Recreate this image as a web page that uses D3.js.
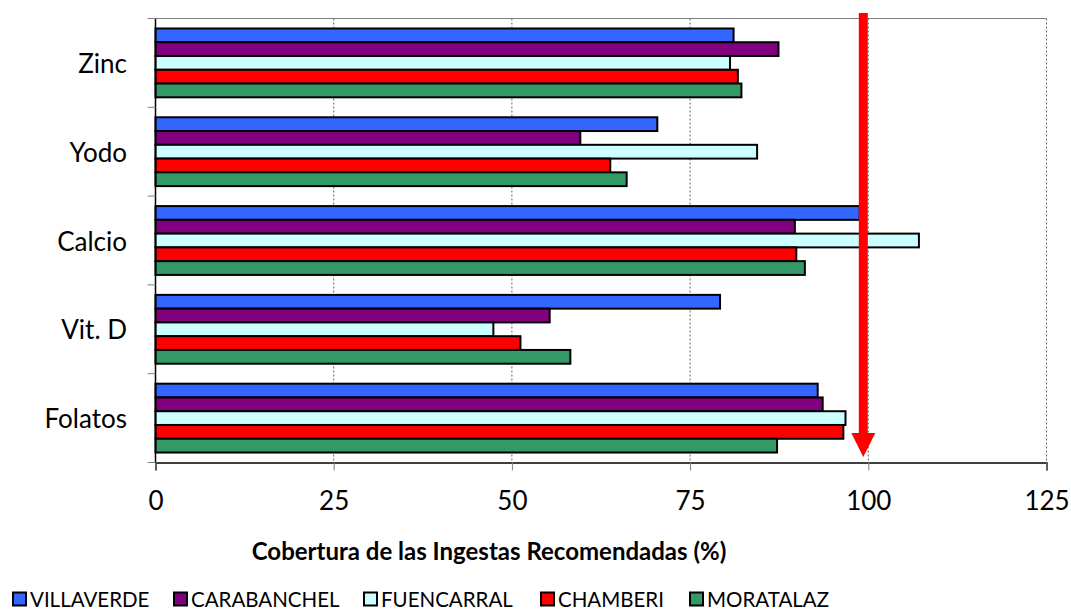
<!DOCTYPE html>
<html>
<head>
<meta charset="utf-8">
<script src="https://cdn.jsdelivr.net/npm/d3@7"></script>
<style>
  html, body { margin: 0; padding: 0; background: #fff; }
  svg { display: block; font-family: Lato, "Open Sans", sans-serif; }
</style>
</head>
<body>
<svg id="chart" width="1071" height="610"></svg>
<script>
// ---- data ----
const categories = ["Zinc", "Yodo", "Calcio", "Vit. D", "Folatos"];
const seriesNames = ["VILLAVERDE", "CARABANCHEL", "FUENCARRAL", "CHAMBERI", "MORATALAZ"];
const villaverde  = [81.1, 70.4, 98.8, 79.2, 92.9];
const carabanchel = [87.4, 59.6, 89.7, 55.3, 93.6];
const fuencarral  = [80.6, 84.4, 107.1, 47.4, 96.8];
const chamberi    = [81.7, 63.8, 89.9, 51.2, 96.5];
const moratalaz   = [82.2, 66.1, 91.1, 58.2, 87.2];
const xTicks = [0, 25, 50, 75, 100, 125];
const xTitle = "Cobertura de las Ingestas Recomendadas (%)";
const referenceValue = 99.3; // red arrow marker

const seriesValues = [villaverde, carabanchel, fuencarral, chamberi, moratalaz];
const colors = ["#3366FF", "#800080", "#CCFFFF", "#FF0000", "#339966"];

// ---- layout ----
const svg = d3.select("#chart");
const pLeft = 155.5, pRight = 1046.5, pTop = 18.5, pBottom = 462.5;

const x = d3.scaleLinear().domain([0, 125]).range([pLeft, pRight]);
const y = d3.scaleBand().domain(categories).range([pTop, pBottom]).paddingInner(0).paddingOuter(0);
const bandInner = d3.scaleBand().domain(seriesNames).range([0, y.bandwidth()]).paddingInner(0).paddingOuter(0.725);

// gridlines
const grid = svg.append("g");
grid.selectAll("line").data(xTicks.filter(d => d > 0)).join("line")
  .attr("x1", d => x(d)).attr("x2", d => x(d))
  .attr("y1", pTop).attr("y2", pBottom)
  .attr("stroke", "#666").attr("stroke-width", 1)
  .attr("stroke-dasharray", "2,2");
// top border
svg.append("line").attr("x1", pLeft).attr("x2", pRight).attr("y1", pTop).attr("y2", pTop)
  .attr("stroke", "#808080").attr("stroke-width", 1.2);

// bars
const rows = [];
categories.forEach((c, i) => {
  seriesNames.forEach((s, j) => rows.push({cat: c, series: s, value: seriesValues[j][i], color: colors[j]}));
});
svg.append("g").selectAll("rect").data(rows).join("rect")
  .attr("x", x(0))
  .attr("y", d => y(d.cat) + bandInner(d.series))
  .attr("width", d => x(d.value) - x(0))
  .attr("height", bandInner.bandwidth())
  .attr("fill", d => d.color)
  .attr("stroke", "#000").attr("stroke-width", 2);

// x axis
const xAxis = svg.append("g").attr("transform", `translate(0,${pBottom})`)
  .call(d3.axisBottom(x).tickValues(xTicks).tickSize(8).tickPadding(21).tickFormat(d3.format("d")));
xAxis.select(".domain").attr("stroke", "#000").attr("stroke-width", 1.5);
xAxis.selectAll(".tick line").attr("stroke", "#808080");
xAxis.selectAll("text").attr("font-size", 26).attr("fill", "#000").attr("font-family", "Lato");

// y axis
const yTickPositions = categories.map(c => y(c)).concat([pBottom]);
const yAxisG = svg.append("g");
yAxisG.append("line").attr("x1", pLeft).attr("x2", pLeft).attr("y1", pTop).attr("y2", pBottom)
  .attr("stroke", "#000").attr("stroke-width", 1.5);
yAxisG.selectAll("line.tk").data(yTickPositions).join("line").attr("class", "tk")
  .attr("x1", pLeft - 8).attr("x2", pLeft).attr("y1", d => d).attr("y2", d => d)
  .attr("stroke", "#808080");
yAxisG.selectAll("text").data(categories).join("text")
  .attr("x", 127).attr("y", d => y(d) + y.bandwidth() / 2)
  .attr("text-anchor", "end").attr("dominant-baseline", "central")
  .attr("font-size", 26).attr("fill", "#000").text(d => d);

// x title
svg.append("text").attr("x", 489).attr("y", 560).attr("text-anchor", "middle")
  .attr("font-size", 24).attr("font-weight", "bold").attr("fill", "#000").text(xTitle);

// arrow
const ax = x(referenceValue);
svg.append("line").attr("x1", ax).attr("x2", ax).attr("y1", 13).attr("y2", 436)
  .attr("stroke", "#FF0000").attr("stroke-width", 9);
svg.append("path")
  .attr("d", `M${ax - 12},${433} L${ax + 12},${433} L${ax},${457} Z`)
  .attr("fill", "#FF0000");

// legend
const legendX = [12, 173, 363, 540, 689];
const lg = svg.append("g");
seriesNames.forEach((s, j) => {
  lg.append("rect").attr("x", legendX[j] + 1).attr("y", 592.5).attr("width", 13).attr("height", 13)
    .attr("fill", colors[j]).attr("stroke", "#000").attr("stroke-width", 2);
  lg.append("text").attr("x", legendX[j] + 18).attr("y", 607)
    .attr("font-size", 20.5).attr("fill", "#000").text(s);
});
</script>
</body>
</html>
